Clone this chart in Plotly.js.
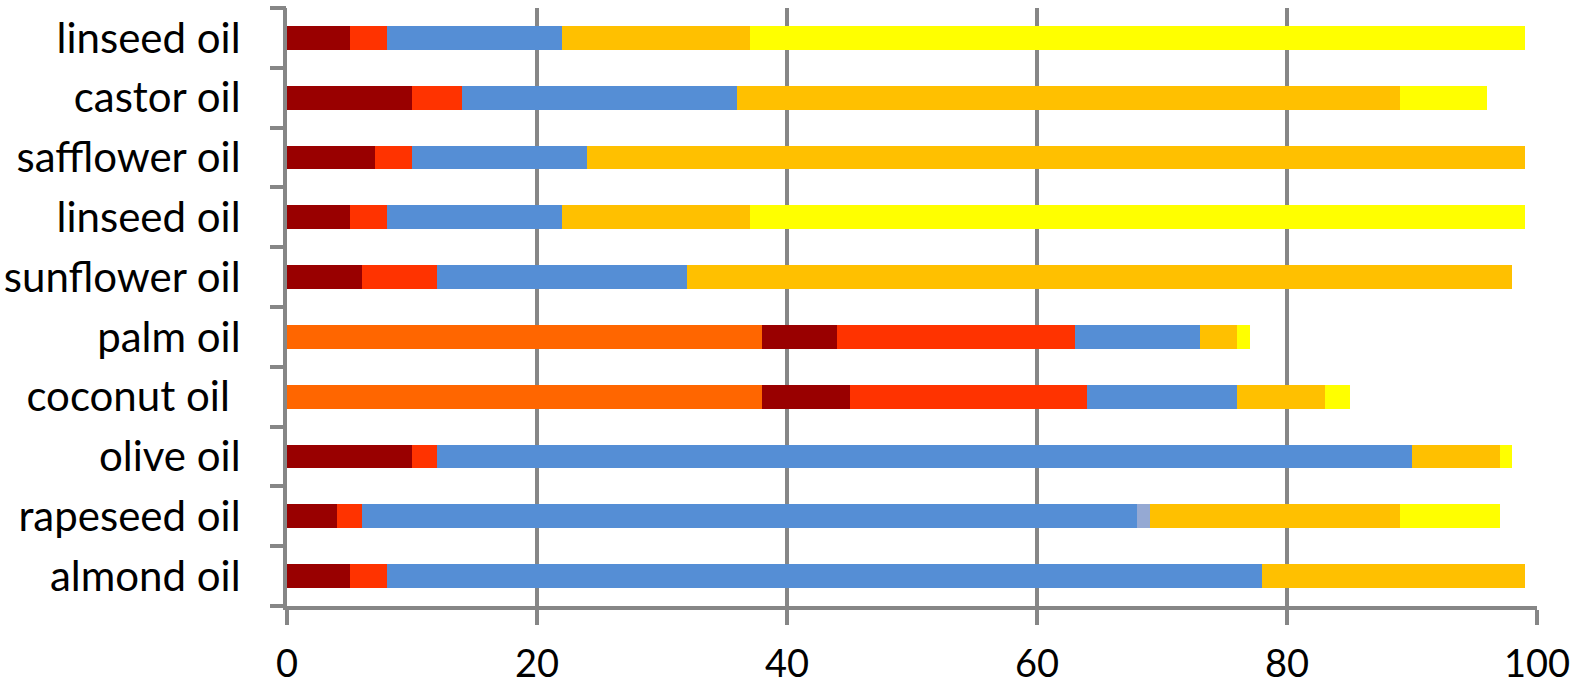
<!DOCTYPE html>
<html>
<head>
<meta charset="utf-8">
<script src="https://cdn.plot.ly/plotly-3.0.1.min.js"></script>
<style>html,body{margin:0;padding:0;background:#fff;}#chart{width:1575px;height:685px;}</style>
</head>
<body>
<div id="chart"></div>
<script>
// categories, bottom to top
const categories = ["almond oil", "rapeseed oil", "olive oil", "coconut oil ", "palm oil", "sunflower oil", "linseed oil", "safflower oil", "castor oil", "linseed oil"];
// series segments (percent)
const seriesA = [0, 0, 0, 38, 38, 0, 0, 0, 0, 0];        // orange
const seriesB = [5, 4, 10, 7, 6, 6, 5, 7, 10, 5];        // dark red
const seriesC = [3, 2, 2, 19, 19, 6, 3, 3, 4, 3];        // red
const seriesD = [70, 62, 78, 12, 10, 20, 14, 14, 22, 14]; // blue
const seriesE = [0, 1, 0, 0, 0, 0, 0, 0, 0, 0];          // grey-blue
const seriesF = [21, 20, 7, 7, 3, 66, 15, 75, 53, 15];   // amber
const seriesG = [0, 8, 1, 2, 1, 0, 62, 0, 7, 62];        // yellow
const xTicks = [0, 20, 40, 60, 80, 100];

const colors = ["#FF6600", "#990000", "#FF3300", "#558ED5", "#95A9D3", "#FFC000", "#FFFF00"];
const allSeries = [seriesA, seriesB, seriesC, seriesD, seriesE, seriesF, seriesG];
const pos = categories.map((c, i) => i);

const traces = allSeries.map((s, k) => ({
  type: "bar", orientation: "h", x: s, y: pos,
  marker: {color: colors[k], line: {width: 0}},
  hoverinfo: "skip", showlegend: false
}));
// empty trace to host the category-boundary tick axis
traces.push({type: "scatter", x: [], y: [], yaxis: "y2", showlegend: false, hoverinfo: "skip"});

const gray = "#868686";
const fontFam = "Lato, 'Open Sans', sans-serif";
const layout = {
  width: 1575, height: 685,
  margin: {l: 287, r: 38, t: 8, b: 79},
  paper_bgcolor: "#fff", plot_bgcolor: "#fff",
  barmode: "stack", bargap: 0.6,
  showlegend: false,
  xaxis: {
    range: [0, 100], tickvals: xTicks, ticktext: xTicks.map(String),
    showgrid: true, gridcolor: gray, gridwidth: 4,
    showline: true, linecolor: gray, linewidth: 4,
    ticks: "outside", ticklen: 15, tickwidth: 4, tickcolor: gray,
    ticklabelstandoff: 6,
    tickfont: {family: fontFam, size: 38, color: "#000"},
    zeroline: false, fixedrange: true
  },
  yaxis: {
    range: [-0.5, 9.5], tickvals: pos, ticktext: categories,
    showgrid: false, zeroline: false,
    showline: true, linecolor: gray, linewidth: 4,
    ticks: "outside", ticklen: 34, tickcolor: "rgba(0,0,0,0)",
    tickfont: {family: fontFam, size: 42, color: "#000"},
    fixedrange: true
  },
  yaxis2: {
    overlaying: "y", side: "left", range: [-0.5, 9.5],
    tickvals: [-0.5, 0.5, 1.5, 2.5, 3.5, 4.5, 5.5, 6.5, 7.5, 8.5, 9.5],
    showticklabels: false, showgrid: false, zeroline: false, showline: false,
    ticks: "outside", ticklen: 16, tickwidth: 4, tickcolor: gray, fixedrange: true
  }
};

Plotly.newPlot("chart", traces, layout, {staticPlot: true, displayModeBar: false});
</script>
</body>
</html>
